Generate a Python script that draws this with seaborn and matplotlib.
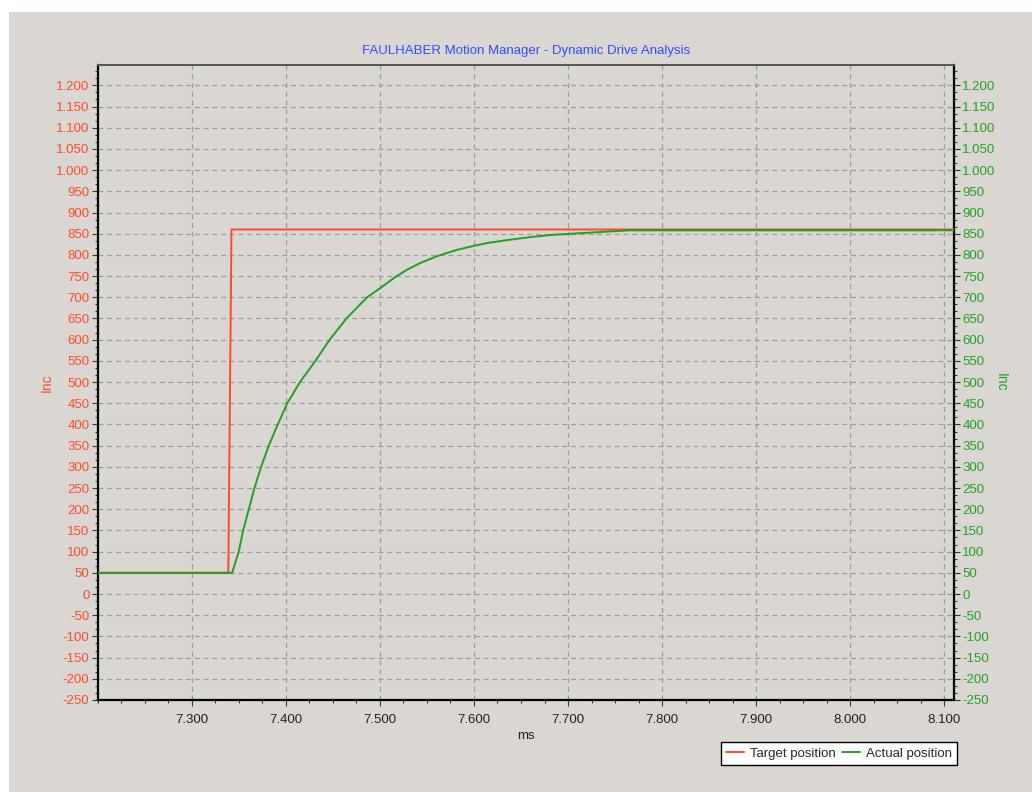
import matplotlib
matplotlib.use("Agg")
import matplotlib.pyplot as plt
from matplotlib.patches import Rectangle
from matplotlib.ticker import FuncFormatter, MultipleLocator, AutoMinorLocator
import numpy as np
import pandas as pd
import seaborn as sns

sns.set_theme(style="white")
plt.rcParams["font.family"] = ["Liberation Sans", "DejaVu Sans"]

BG = "#dad6d2"
RED = "#ff4a28"
GREEN = "#22a022"
BLUE = "#2f4cff"

# target position (ms, inc)
target_t = [7.200, 7.3388, 7.3422, 8.110]
target_v = [50, 50, 860, 860]

# actual position (ms, inc)
actual_t = [7.200, 7.3429, 7.3499, 7.3546, 7.3606, 7.3666, 7.3737, 7.3818, 7.3914,
            7.4015, 7.4150, 7.4314, 7.4466, 7.4644, 7.4864, 7.5005, 7.5164, 7.5288,
            7.5430, 7.5607, 7.5820, 7.6011, 7.6138, 7.6386, 7.6598, 7.6811, 7.7112,
            7.7342, 7.7661, 8.110]
actual_v = [50, 50, 100, 150, 200, 250, 300, 350, 400,
            450, 500, 550, 600, 650, 700, 722, 748, 765,
            781, 797, 812, 822, 828, 836, 842, 847, 851,
            854, 858, 858]

x_ticks = [7.3, 7.4, 7.5, 7.6, 7.7, 7.8, 7.9, 8.0, 8.1]
y_ticks = list(range(-250, 1201, 50))

target = pd.DataFrame({"ms": target_t, "inc": target_v})
actual = pd.DataFrame({"ms": actual_t, "inc": actual_v})

fig = plt.figure(figsize=(10.32, 7.92), dpi=100, facecolor="white")
fig.patches.append(Rectangle((9 / 1032, 0), 1, 1 - 12 / 792, transform=fig.transFigure,
                             facecolor=BG, edgecolor="none", zorder=-10))

ax = fig.add_axes([0.0947, 0.1162, 0.8297, 0.8017])
ax.set_facecolor(BG)

sns.lineplot(data=target, x="ms", y="inc", ax=ax, color=RED, lw=1.4,
             estimator=None, sort=False, label="Target position", zorder=3)
sns.lineplot(data=actual, x="ms", y="inc", ax=ax, color=GREEN, lw=1.4,
             estimator=None, sort=False, label="Actual position", zorder=4)

ax.set_xlim(7.2, 8.1103)
ax.set_ylim(-250, 1248)

num_fmt = FuncFormatter(lambda v, p: f"{int(round(v)):,}".replace(",", "."))
ax.xaxis.set_major_locator(MultipleLocator(0.1))
ax.xaxis.set_minor_locator(AutoMinorLocator(4))
ax.xaxis.set_major_formatter(FuncFormatter(lambda v, p: f"{v:.3f}"))
ax.set_xticks(x_ticks)
ax.set_yticks(y_ticks)
ax.yaxis.set_minor_locator(AutoMinorLocator(3))
ax.yaxis.set_major_formatter(num_fmt)

ax.grid(True, which="major", color="#9c9c9c", ls=(0, (4, 3)), lw=0.9)
ax.tick_params(axis="y", which="major", direction="out", length=4, width=0.8,
               colors="#333333", labelcolor=RED, labelsize=9.5, pad=2, left=True)
ax.tick_params(axis="y", which="minor", direction="out", length=2, width=0.8,
               colors="#333333", left=True)
ax.tick_params(axis="x", which="major", direction="out", length=4, width=0.8,
               colors="#333333", labelcolor="#222222", labelsize=9.5, pad=6, bottom=True)
ax.tick_params(axis="x", which="minor", direction="out", length=2, width=0.8,
               colors="#333333", bottom=True)

for side in ["left", "bottom", "right"]:
    ax.spines[side].set_color("black")
    ax.spines[side].set_linewidth(1.6)
ax.spines["top"].set_color("#555555")
ax.spines["top"].set_linewidth(1.4)

ax.set_xlabel("ms", fontsize=9.5, color="#222222", labelpad=3)
ax.set_ylabel("Inc", fontsize=10, color=RED, labelpad=1.5)
ax.set_title("FAULHABER Motion Manager - Dynamic Drive Analysis",
             fontsize=9.5, color=BLUE, pad=8)

ax2 = ax.twinx()
ax2.set_ylim(ax.get_ylim())
ax2.set_yticks(y_ticks)
ax2.yaxis.set_minor_locator(AutoMinorLocator(3))
ax2.yaxis.set_major_formatter(num_fmt)
ax2.tick_params(axis="y", which="major", direction="out", length=4, width=0.8,
                colors="#333333", labelcolor=GREEN, labelsize=9.5, pad=2, right=True)
ax2.tick_params(axis="y", which="minor", direction="out", length=2, width=0.8,
                colors="#333333", right=True)
ax2.set_ylabel("Inc", fontsize=10, color=GREEN, rotation=270, labelpad=9)
for s in ax2.spines.values():
    s.set_visible(False)

handles, labels = ax.get_legend_handles_labels()
ax.get_legend().remove()
leg = fig.legend(handles, labels, ncol=2, loc="lower right",
                 bbox_to_anchor=(957 / 1032, 1 - 765 / 792), frameon=True,
                 fontsize=9.5, handlelength=1.4, handletextpad=0.4, columnspacing=0.5,
                 borderpad=0.4, fancybox=False, borderaxespad=0)
leg.get_frame().set_edgecolor("black")
leg.get_frame().set_facecolor("white")
leg.get_frame().set_linewidth(1.0)
leg.get_frame().set_alpha(1)

fig.savefig("out.png", dpi=100, facecolor=fig.get_facecolor())
